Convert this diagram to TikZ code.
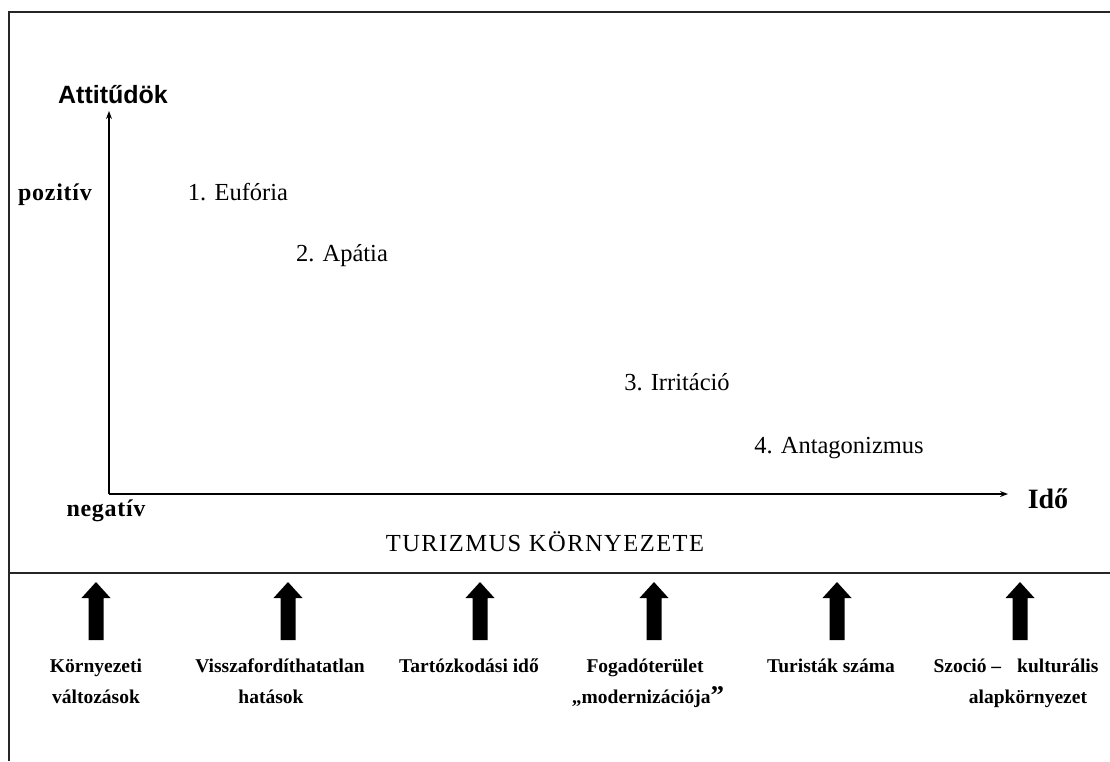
\documentclass[tikz,border=0pt]{standalone}
\usepackage{fontspec}
\setmainfont{Liberation Serif}
\newfontfamily\arialfont{Liberation Sans}
\usetikzlibrary{arrows.meta}
\tikzset{
  frameline/.style={line width=1.6pt, draw=black!85},
  axisline/.style={line width=1.2pt, draw=black, -{Stealth[length=8pt,width=6pt]}},
  lbl/.style={inner sep=0pt, anchor=base, font=\fontsize{24.5}{28}\selectfont},
  blbl/.style={inner sep=0pt, anchor=base, font=\bfseries\fontsize{24}{28}\selectfont},
  factor/.style={inner sep=0pt, anchor=base, font=\bfseries\fontsize{19.5}{32}\selectfont},
  blockarrow/.style={fill=black}
}
\begin{document}
\begin{tikzpicture}[x=1pt,y=-1pt]
\useasboundingbox (0,0) rectangle (1110,761);
% frame
\coordinate (TL) at (9,12);
\coordinate (TR) at (1110,12);
\coordinate (BL) at (9,761);
\coordinate (ML) at (9,573);
\coordinate (MR) at (1110,573);
\draw[frameline] (TR) -- (TL) -- (BL);
\draw[frameline] (ML) -- (MR);
% axes
\coordinate (O) at (109,494);
\coordinate (ytip) at (109,111);
\coordinate (xtip) at (1008,494);
\draw[axisline] (O) -- (ytip);
\draw[axisline] (O) -- (xtip);
% axis labels
\node[inner sep=0pt, anchor=base] (att) at (113,103) {\arialfont\bfseries\fontsize{25}{28}\selectfont Attitűdök};
\node[blbl] (poz) at (55,200) {\addfontfeature{LetterSpace=3}pozitív};
\node[blbl] (neg) at (106,516) {\addfontfeature{LetterSpace=3}negatív};
\node[inner sep=0pt, anchor=base, font=\bfseries\fontsize{28}{32}\selectfont] (ido) at (1048,508) {Idő};
% phases
\node[lbl] (p1) at (238,200) {1. Eufória};
\node[lbl] (p2) at (342,261) {2. Apátia};
\node[lbl] (p3) at (677,390) {3. Irritáció};
\node[lbl] (p4) at (839,453) {4. Antagonizmus};
\node[lbl] (tk) at (545,551) {\addfontfeature{LetterSpace=6}TURIZMUS KÖRNYEZETE};
% block arrows
\foreach \cx [count=\i] in {96,288,480,654,837,1020}{
  \fill[blockarrow] (\cx,582) -- (\cx+14.5,598) -- (\cx+7.5,598) -- (\cx+7.5,640)
     -- (\cx-7.5,640) -- (\cx-7.5,598) -- (\cx-14.5,598) -- cycle;
}
% factors
\node[factor] (f1a) at (96,672) {Környezeti};
\node[factor] (f1b) at (96,703) {változások};
\node[factor] (f2a) at (280,672) {Visszafordíthatatlan};
\node[factor] (f2b) at (271,703) {hatások};
\node[factor] (f3) at (469,672) {Tartózkodási idő};
\node[factor] (f4a) at (645,672) {Fogadóterület};
\node[factor] (f4b) at (648,703) {„modernizációja{\fontsize{27}{27}\selectfont\raisebox{-1pt}{”}}};
\node[factor] (f5) at (831,672) {Turisták száma};
\node[factor] (f6a) at (1016,672) {Szoció –\hspace{16pt}kulturális};
\node[factor] (f6b) at (1028,703) {alapkörnyezet};
\end{tikzpicture}
\end{document}
